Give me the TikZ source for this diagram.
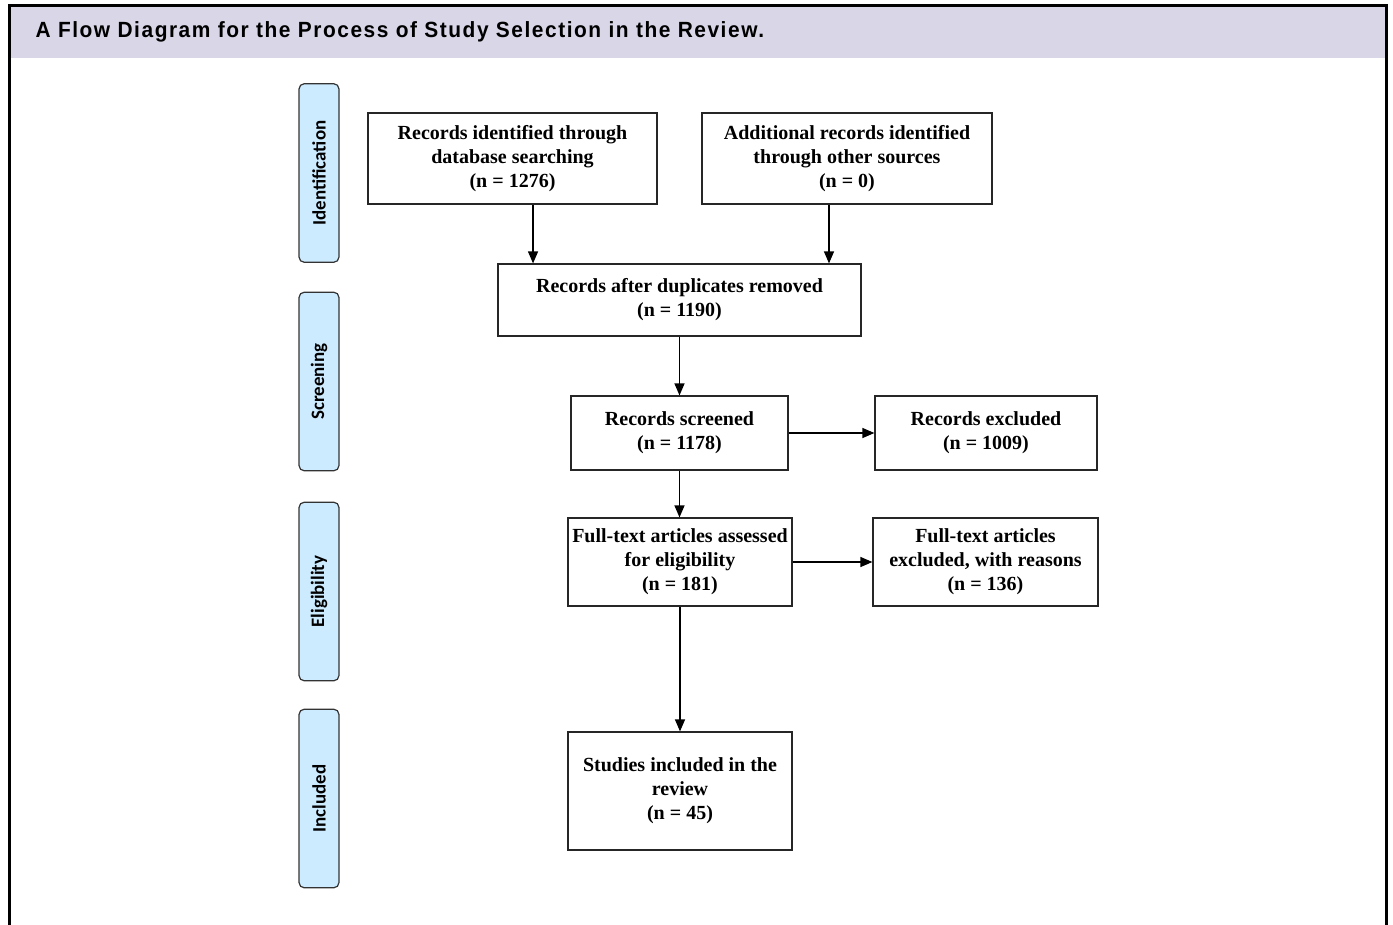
\documentclass[tikz,border=0pt]{standalone}
\usepackage{fontspec}
\setmainfont{Liberation Serif}
\newfontfamily\headfont[FakeStretch=0.95,LetterSpace=7]{Liberation Sans}
\newfontfamily\sidefont{Carlito}
\usetikzlibrary{arrows.meta}
\definecolor{headbg}{RGB}{217,214,232}
\definecolor{sidebg}{RGB}{204,235,255}
\begin{document}
\begin{tikzpicture}[x=0.75pt,y=-0.75pt,>={Triangle[length=9pt,width=7.5pt]},line width=0.9pt,
  box/.style={draw=black!85,align=center,inner sep=0pt,font=\fontsize{15}{18}\selectfont\bfseries},
  phase/.style={draw=black!80,fill=sidebg,rounded corners=4pt,rotate=90,minimum width=134pt,minimum height=30pt,font=\sidefont\fontsize{14.2}{16}\selectfont\bfseries}]
\useasboundingbox (0,0) rectangle (1393,925);
% frame and heading
\fill[headbg] (11,7) rectangle (1385,58);
\draw[line width=2.25pt] (9.5,925)--(9.5,5.5)--(1386,5.5)--(1386,925);
\node[anchor=west,inner sep=0pt,font=\headfont\bfseries\fontsize{16.5}{19}\selectfont] (title) at (35,32) {A Flow Diagram for the Process of Study Selection in the Review.};
% phases
\node[phase] (ident) at (319,173) {Identification};
\node[phase] (screen) at (319,381.5) {Screening};
\node[phase] (elig) at (319,591.5) {Eligibility};
\node[phase] (incl) at (319,798.5) {Included};
% boxes
\node[box,minimum width=216.75pt,minimum height=68.25pt] (db) at (512.5,158.5) {Records identified through\\database searching\\(n = 1276)};
\node[box,minimum width=217.5pt,minimum height=68.25pt] (other) at (847,158.5) {Additional records identified\\through other sources\\(n = 0)};
\node[box,minimum width=272.25pt,minimum height=54pt] (dup) at (679.5,300) {Records after duplicates removed\\(n = 1190)};
\node[box,minimum width=162.75pt,minimum height=55.5pt] (scr) at (679.5,433) {Records screened\\(n = 1178)};
\node[box,minimum width=166.5pt,minimum height=55.5pt] (excl) at (986,433) {Records excluded\\(n = 1009)};
\node[box,minimum width=168pt,minimum height=66pt] (full) at (680,562) {Full-text articles assessed\\for eligibility\\(n = 181)};
\node[box,minimum width=168.75pt,minimum height=66pt] (fexcl) at (985.5,562) {Full-text articles\\excluded, with reasons\\(n = 136)};
\node[box,minimum width=168pt,minimum height=88.5pt] (inc) at (680,791) {Studies included in the\\review\\(n = 45)};
% arrows
\draw[->] ([xshift=15.4pt]db.south)--([xshift=15.4pt]db.south |- dup.north);
\draw[->] ([xshift=-13.5pt]other.south)--([xshift=-13.5pt]other.south |- dup.north);
\draw[->] (dup.south)--(dup.south |- scr.north);
\draw[->] (scr.south)--(scr.south |- full.north);
\draw[->] (full.south)--(full.south |- inc.north);
\draw[->] (scr.east)--(scr.east -| excl.west);
\draw[->] (full.east)--(full.east -| fexcl.west);
\end{tikzpicture}
\end{document}
